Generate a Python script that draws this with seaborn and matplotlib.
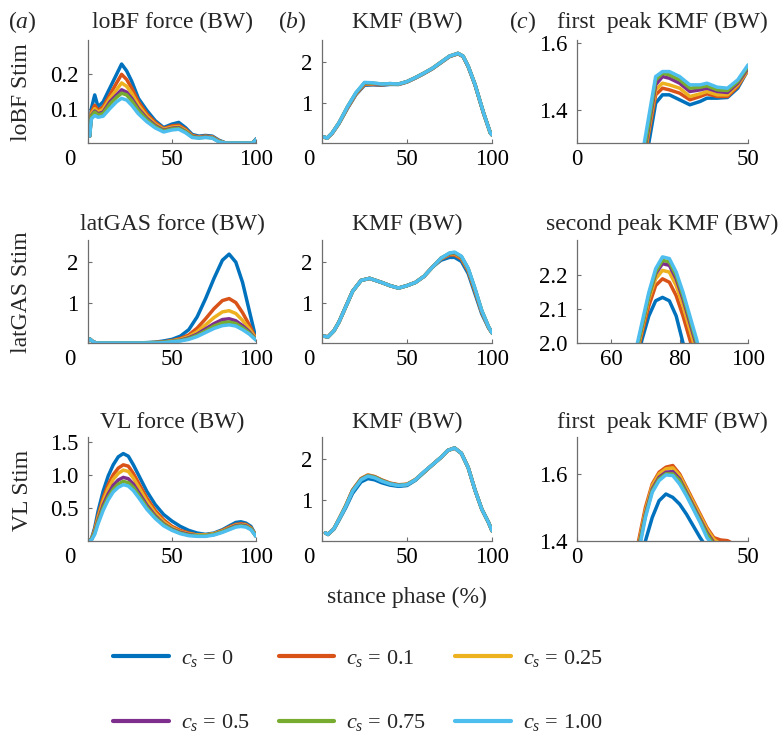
import numpy as np
import pandas as pd
import seaborn as sns
import matplotlib
matplotlib.use("Agg")
import matplotlib.pyplot as plt
from matplotlib.lines import Line2D
from matplotlib.transforms import ScaledTranslation

# ---------------- data ----------------
cs_labels = ["0", "0.1", "0.25", "0.5", "0.75", "1.00"]
colors = ["#0072BD", "#D95319", "#EDB120", "#7E2F8E", "#77AC30", "#4DBEEE"]

# row 1 (loBF Stim)
lobf_x = [1, 2, 4, 6, 9, 13, 17, 20, 23, 26, 30, 35, 40, 45, 50, 54, 58, 62, 66, 70, 74, 78, 82, 90, 98, 100]
lobf_y = [
    [0.02, 0.10, 0.14, 0.105, 0.12, 0.16, 0.20, 0.23, 0.21, 0.18, 0.13, 0.095, 0.065, 0.045, 0.055, 0.06, 0.045, 0.025, 0.02, 0.022, 0.02, 0.008, 0.0, 0.0, 0.0, 0.012],
    [0.02, 0.09, 0.11, 0.095, 0.105, 0.14, 0.175, 0.20, 0.185, 0.16, 0.12, 0.085, 0.06, 0.042, 0.05, 0.052, 0.04, 0.022, 0.018, 0.02, 0.018, 0.006, 0.0, 0.0, 0.0, 0.01],
    [0.02, 0.085, 0.10, 0.09, 0.098, 0.13, 0.155, 0.175, 0.165, 0.145, 0.11, 0.078, 0.055, 0.04, 0.046, 0.048, 0.037, 0.02, 0.017, 0.019, 0.017, 0.005, 0.0, 0.0, 0.0, 0.01],
    [0.02, 0.08, 0.093, 0.085, 0.09, 0.12, 0.14, 0.155, 0.148, 0.13, 0.10, 0.072, 0.051, 0.037, 0.043, 0.045, 0.034, 0.019, 0.016, 0.018, 0.016, 0.004, 0.0, 0.0, 0.0, 0.01],
    [0.02, 0.078, 0.09, 0.082, 0.086, 0.113, 0.133, 0.145, 0.14, 0.123, 0.095, 0.068, 0.048, 0.035, 0.041, 0.043, 0.033, 0.018, 0.015, 0.017, 0.015, 0.004, 0.0, 0.0, 0.0, 0.01],
    [0.02, 0.07, 0.08, 0.075, 0.078, 0.10, 0.12, 0.13, 0.125, 0.11, 0.085, 0.062, 0.044, 0.032, 0.038, 0.04, 0.03, 0.016, 0.014, 0.016, 0.014, 0.003, 0.0, 0.0, 0.0, 0.01],
]
kmf1_x = [1, 3, 6, 10, 15, 20, 25, 30, 35, 40, 45, 50, 55, 60, 65, 70, 75, 80, 83, 86, 90, 95, 99, 100]
kmf1_y = [
    [0.15, 0.12, 0.24, 0.48, 0.86, 1.20, 1.43, 1.44, 1.43, 1.45, 1.45, 1.51, 1.61, 1.72, 1.84, 1.99, 2.14, 2.21, 2.14, 1.89, 1.44, 0.74, 0.25, 0.20],
    [0.15, 0.12, 0.24, 0.49, 0.87, 1.21, 1.45, 1.45, 1.44, 1.46, 1.45, 1.51, 1.61, 1.72, 1.84, 1.99, 2.14, 2.21, 2.14, 1.89, 1.44, 0.74, 0.25, 0.20],
    [0.15, 0.12, 0.25, 0.49, 0.88, 1.22, 1.47, 1.46, 1.45, 1.46, 1.46, 1.52, 1.62, 1.73, 1.85, 2.00, 2.15, 2.22, 2.15, 1.90, 1.45, 0.75, 0.25, 0.20],
    [0.15, 0.12, 0.25, 0.50, 0.89, 1.23, 1.48, 1.47, 1.45, 1.47, 1.46, 1.52, 1.62, 1.73, 1.85, 2.00, 2.15, 2.22, 2.15, 1.90, 1.45, 0.75, 0.25, 0.20],
    [0.15, 0.12, 0.25, 0.50, 0.90, 1.24, 1.49, 1.48, 1.46, 1.47, 1.46, 1.52, 1.62, 1.73, 1.85, 2.00, 2.15, 2.22, 2.15, 1.90, 1.45, 0.75, 0.25, 0.20],
    [0.15, 0.12, 0.25, 0.50, 0.90, 1.25, 1.50, 1.49, 1.46, 1.47, 1.46, 1.52, 1.62, 1.73, 1.85, 2.00, 2.15, 2.22, 2.15, 1.90, 1.45, 0.75, 0.25, 0.20],
]
peak1a_x = [19, 21, 23, 25, 27, 30, 33, 36, 38, 41, 44, 47, 50]
peak1a_y = [
    [1.19, 1.30, 1.42, 1.445, 1.445, 1.43, 1.415, 1.425, 1.435, 1.435, 1.437, 1.465, 1.52],
    [1.21, 1.33, 1.445, 1.465, 1.46, 1.45, 1.43, 1.44, 1.448, 1.44, 1.44, 1.47, 1.52],
    [1.22, 1.34, 1.46, 1.48, 1.475, 1.465, 1.44, 1.448, 1.455, 1.445, 1.445, 1.475, 1.52],
    [1.23, 1.35, 1.475, 1.50, 1.495, 1.48, 1.455, 1.46, 1.465, 1.455, 1.452, 1.48, 1.525],
    [1.24, 1.36, 1.49, 1.51, 1.505, 1.49, 1.465, 1.468, 1.472, 1.46, 1.458, 1.485, 1.53],
    [1.26, 1.38, 1.50, 1.515, 1.515, 1.50, 1.475, 1.475, 1.48, 1.468, 1.465, 1.49, 1.535],
]

# row 2 (latGAS Stim)
gas_x = [0, 1, 3, 5, 10, 20, 30, 40, 45, 50, 55, 60, 65, 70, 75, 80, 84, 88, 92, 96, 100]
gas_y = [
    [0.05, 0.10, 0.03, 0.0, 0.0, 0.0, 0.0, 0.02, 0.05, 0.09, 0.17, 0.33, 0.65, 1.10, 1.60, 2.05, 2.20, 2.00, 1.50, 0.80, 0.10],
    [0.05, 0.10, 0.03, 0.0, 0.0, 0.0, 0.0, 0.01, 0.03, 0.06, 0.11, 0.20, 0.37, 0.60, 0.85, 1.05, 1.10, 1.00, 0.75, 0.45, 0.10],
    [0.05, 0.10, 0.03, 0.0, 0.0, 0.0, 0.0, 0.01, 0.02, 0.05, 0.09, 0.16, 0.28, 0.45, 0.63, 0.77, 0.80, 0.73, 0.56, 0.35, 0.10],
    [0.05, 0.10, 0.03, 0.0, 0.0, 0.0, 0.0, 0.01, 0.02, 0.04, 0.07, 0.13, 0.22, 0.35, 0.48, 0.58, 0.60, 0.55, 0.43, 0.28, 0.08],
    [0.05, 0.10, 0.03, 0.0, 0.0, 0.0, 0.0, 0.01, 0.02, 0.04, 0.06, 0.11, 0.19, 0.30, 0.42, 0.50, 0.52, 0.48, 0.38, 0.25, 0.08],
    [0.05, 0.10, 0.03, 0.0, 0.0, 0.0, 0.0, 0.0, 0.01, 0.03, 0.05, 0.09, 0.16, 0.26, 0.36, 0.43, 0.45, 0.42, 0.33, 0.22, 0.07],
]
kmf2_x = [1, 3.5, 7, 10, 14, 18, 23, 28, 35, 40, 45, 50, 55, 60, 65, 70, 75, 78, 82, 86, 90, 94, 98, 100]
kmf2_y = [
    [0.17, 0.15, 0.30, 0.52, 0.90, 1.28, 1.55, 1.60, 1.50, 1.42, 1.36, 1.42, 1.50, 1.65, 1.88, 2.05, 2.12, 2.12, 2.02, 1.72, 1.22, 0.72, 0.37, 0.25],
    [0.17, 0.15, 0.30, 0.52, 0.90, 1.28, 1.55, 1.60, 1.50, 1.42, 1.36, 1.42, 1.50, 1.65, 1.88, 2.08, 2.18, 2.18, 2.08, 1.78, 1.28, 0.76, 0.38, 0.25],
    [0.17, 0.15, 0.30, 0.52, 0.90, 1.28, 1.55, 1.60, 1.50, 1.42, 1.36, 1.42, 1.50, 1.65, 1.88, 2.09, 2.20, 2.21, 2.11, 1.81, 1.31, 0.78, 0.39, 0.25],
    [0.17, 0.15, 0.30, 0.52, 0.90, 1.28, 1.55, 1.60, 1.50, 1.42, 1.36, 1.42, 1.50, 1.65, 1.88, 2.10, 2.21, 2.23, 2.13, 1.83, 1.33, 0.79, 0.40, 0.25],
    [0.17, 0.15, 0.30, 0.52, 0.90, 1.28, 1.55, 1.60, 1.50, 1.42, 1.36, 1.42, 1.50, 1.65, 1.88, 2.10, 2.22, 2.24, 2.14, 1.84, 1.34, 0.80, 0.40, 0.25],
    [0.17, 0.15, 0.30, 0.52, 0.90, 1.28, 1.55, 1.60, 1.50, 1.42, 1.36, 1.42, 1.50, 1.65, 1.88, 2.10, 2.23, 2.25, 2.15, 1.85, 1.35, 0.80, 0.40, 0.25],
]
peak2_x = [65, 67, 69, 71, 73, 75, 77, 79, 81, 83, 85, 87]
peak2_y = [
    [1.83, 1.92, 2.01, 2.08, 2.125, 2.135, 2.125, 2.08, 2.00, 1.92, 1.85, 1.78],
    [1.85, 1.94, 2.03, 2.11, 2.17, 2.19, 2.18, 2.14, 2.08, 2.01, 1.94, 1.85],
    [1.86, 1.95, 2.04, 2.13, 2.19, 2.215, 2.21, 2.17, 2.11, 2.04, 1.97, 1.88],
    [1.87, 1.96, 2.05, 2.14, 2.205, 2.235, 2.23, 2.19, 2.13, 2.06, 1.99, 1.90],
    [1.87, 1.96, 2.05, 2.14, 2.21, 2.245, 2.24, 2.20, 2.14, 2.07, 2.00, 1.91],
    [1.88, 1.97, 2.06, 2.15, 2.22, 2.255, 2.25, 2.21, 2.15, 2.08, 2.01, 1.92],
]

# row 3 (VL Stim)
vl_x = [0, 2, 4, 6, 9, 12, 15, 18, 21, 24, 27, 30, 35, 40, 45, 50, 55, 60, 65, 70, 75, 80, 85, 88, 91, 94, 97, 100]
vl_y = [
    [0, 0.03, 0.20, 0.45, 0.75, 0.98, 1.15, 1.27, 1.32, 1.28, 1.15, 1.00, 0.75, 0.55, 0.40, 0.30, 0.22, 0.16, 0.12, 0.10, 0.12, 0.17, 0.24, 0.28, 0.29, 0.27, 0.22, 0.08],
    [0, 0.02, 0.17, 0.38, 0.65, 0.85, 1.00, 1.10, 1.15, 1.13, 1.02, 0.88, 0.65, 0.46, 0.32, 0.22, 0.16, 0.12, 0.09, 0.09, 0.11, 0.16, 0.22, 0.25, 0.26, 0.25, 0.20, 0.08],
    [0, 0.02, 0.15, 0.35, 0.60, 0.79, 0.93, 1.02, 1.07, 1.05, 0.95, 0.82, 0.60, 0.42, 0.29, 0.20, 0.14, 0.11, 0.09, 0.09, 0.11, 0.15, 0.21, 0.24, 0.25, 0.24, 0.19, 0.08],
    [0, 0.02, 0.13, 0.31, 0.54, 0.71, 0.84, 0.92, 0.96, 0.94, 0.86, 0.74, 0.54, 0.38, 0.26, 0.18, 0.13, 0.10, 0.08, 0.08, 0.10, 0.14, 0.20, 0.23, 0.24, 0.23, 0.18, 0.07],
    [0, 0.02, 0.12, 0.29, 0.50, 0.66, 0.78, 0.86, 0.90, 0.88, 0.81, 0.70, 0.51, 0.36, 0.25, 0.17, 0.12, 0.09, 0.08, 0.08, 0.10, 0.14, 0.19, 0.22, 0.23, 0.22, 0.18, 0.07],
    [0, 0.01, 0.10, 0.26, 0.46, 0.62, 0.74, 0.81, 0.85, 0.83, 0.76, 0.66, 0.48, 0.34, 0.23, 0.16, 0.11, 0.08, 0.07, 0.07, 0.09, 0.13, 0.18, 0.21, 0.22, 0.21, 0.17, 0.07],
]
kmf3_x = [2, 3.5, 7, 10, 14, 18, 23, 27, 31, 35, 40, 45, 50, 55, 60, 65, 70, 74, 78, 82, 86, 90, 94, 98, 100]
kmf3_y = [
    [0.20, 0.16, 0.29, 0.51, 0.82, 1.17, 1.45, 1.53, 1.50, 1.43, 1.37, 1.34, 1.36, 1.49, 1.68, 1.87, 2.05, 2.22, 2.28, 2.15, 1.80, 1.25, 0.78, 0.45, 0.25],
    [0.20, 0.16, 0.30, 0.54, 0.87, 1.25, 1.53, 1.62, 1.58, 1.50, 1.42, 1.38, 1.39, 1.51, 1.69, 1.87, 2.05, 2.22, 2.28, 2.15, 1.80, 1.25, 0.78, 0.45, 0.25],
    [0.20, 0.16, 0.30, 0.54, 0.87, 1.25, 1.53, 1.615, 1.575, 1.495, 1.415, 1.375, 1.39, 1.51, 1.69, 1.87, 2.05, 2.22, 2.28, 2.15, 1.80, 1.25, 0.78, 0.45, 0.25],
    [0.20, 0.16, 0.30, 0.53, 0.86, 1.24, 1.52, 1.605, 1.57, 1.49, 1.41, 1.37, 1.385, 1.50, 1.69, 1.87, 2.05, 2.22, 2.28, 2.15, 1.80, 1.25, 0.78, 0.45, 0.25],
    [0.20, 0.16, 0.30, 0.53, 0.86, 1.23, 1.51, 1.60, 1.565, 1.485, 1.405, 1.365, 1.385, 1.50, 1.69, 1.87, 2.05, 2.22, 2.28, 2.15, 1.80, 1.25, 0.78, 0.45, 0.25],
    [0.20, 0.16, 0.30, 0.53, 0.85, 1.22, 1.50, 1.59, 1.55, 1.47, 1.40, 1.36, 1.38, 1.50, 1.70, 1.87, 2.05, 2.22, 2.28, 2.15, 1.80, 1.25, 0.78, 0.45, 0.25],
]
peak1c_x = [16, 18, 20, 22, 24, 26, 28, 30, 32, 34, 36, 38, 40, 42, 44, 46]
peak1c_y = [
    [1.22, 1.32, 1.40, 1.47, 1.52, 1.54, 1.53, 1.51, 1.48, 1.445, 1.41, 1.38, 1.36, 1.35, 1.34, 1.33],
    [1.30, 1.40, 1.50, 1.57, 1.605, 1.62, 1.625, 1.60, 1.56, 1.52, 1.48, 1.44, 1.41, 1.403, 1.401, 1.39],
    [1.29, 1.39, 1.49, 1.565, 1.60, 1.615, 1.618, 1.595, 1.555, 1.515, 1.475, 1.435, 1.405, 1.39, 1.38, 1.37],
    [1.28, 1.38, 1.48, 1.555, 1.59, 1.605, 1.607, 1.585, 1.545, 1.505, 1.465, 1.425, 1.395, 1.38, 1.37, 1.36],
    [1.28, 1.375, 1.475, 1.55, 1.585, 1.60, 1.60, 1.58, 1.54, 1.50, 1.46, 1.42, 1.39, 1.37, 1.36, 1.35],
    [1.27, 1.365, 1.47, 1.545, 1.58, 1.597, 1.595, 1.57, 1.535, 1.495, 1.455, 1.41, 1.385, 1.37, 1.36, 1.35],
]

titles = [["loBF force (BW)", "KMF (BW)", "first  peak KMF (BW)"],
          ["latGAS force (BW)", "KMF (BW)", "second peak KMF (BW)"],
          ["VL force (BW)", "KMF (BW)", "first  peak KMF (BW)"]]
row_labels = ["loBF Stim", "latGAS Stim", "VL Stim"]
panel_letters = ["a", "b", "c"]

# ---------------- style ----------------
sns.set_style("ticks")
plt.rcParams["font.family"] = ["Liberation Serif", "DejaVu Serif"]
plt.rcParams["mathtext.fontset"] = "custom"
plt.rcParams["mathtext.rm"] = "Liberation Serif"
plt.rcParams["mathtext.it"] = "Liberation Serif:italic"

W, H = 780, 732
fig = plt.figure(figsize=(W / 100, H / 100), dpi=100)
fig.patch.set_facecolor("white")

lefts = [88, 322, 577]
widths = [168, 170, 171]
tops = [40, 240, 437]
heights = [103, 103, 104]
title_pads = [8.5, 7.0, 6.5]
zero_shift = [-18, -13, 0]

panels = [
    (0, 0, lobf_x, lobf_y, (0, 100), (0, 0.30), [0, 50, 100], ["0", "50", "100"], [0.1, 0.2], ["0.1", "0.2"]),
    (0, 1, kmf1_x, kmf1_y, (0, 100), (0, 2.55), [0, 50, 100], ["0", "50", "100"], [1, 2], ["1", "2"]),
    (0, 2, peak1a_x, peak1a_y, (0, 50), (1.3, 1.61), [0, 50], ["0", "50"], [1.4, 1.6], ["1.4", "1.6"]),
    (1, 0, gas_x, gas_y, (0, 100), (0, 2.55), [0, 50, 100], ["0", "50", "100"], [1, 2], ["1", "2"]),
    (1, 1, kmf2_x, kmf2_y, (0, 100), (0, 2.55), [0, 50, 100], ["0", "50", "100"], [1, 2], ["1", "2"]),
    (1, 2, peak2_x, peak2_y, (50, 100), (2.0, 2.305), [60, 80, 100], ["60", "80", "100"], [2.0, 2.1, 2.2], ["2.0", "2.1", "2.2"]),
    (2, 0, vl_x, vl_y, (0, 100), (0, 1.57), [0, 50, 100], ["0", "50", "100"], [0.5, 1.0, 1.5], ["0.5", "1.0", "1.5"]),
    (2, 1, kmf3_x, kmf3_y, (0, 100), (0, 2.55), [0, 50, 100], ["0", "50", "100"], [1, 2], ["1", "2"]),
    (2, 2, peak1c_x, peak1c_y, (0, 50), (1.4, 1.71), [0, 50], ["0", "50"], [1.4, 1.6], ["1.4", "1.6"]),
]

spine_col = "#6e6e6e"
for (r, c, xs, ys, xlim, ylim, xt, xtl, yt, ytl) in panels:
    ax = fig.add_axes([lefts[c] / W, 1 - (tops[r] + heights[r]) / H, widths[c] / W, heights[r] / H])
    rows = []
    for lab, yv in zip(cs_labels, ys):
        for xv, v in zip(xs, yv):
            rows.append({"x": xv, "y": v, "cs": lab})
    df = pd.DataFrame(rows)
    sns.lineplot(data=df, x="x", y="y", hue="cs", hue_order=cs_labels, palette=colors,
                 estimator=None, sort=False, legend=False, lw=2.5, ax=ax)
    ax.set_xlim(*xlim)
    ax.set_ylim(*ylim)
    ax.set_xticks(xt)
    ax.set_xticklabels(xtl)
    ax.set_yticks(yt)
    ax.set_yticklabels(ytl)
    ax.set_xlabel("")
    ax.set_ylabel("")
    for s in ["top", "right"]:
        ax.spines[s].set_visible(False)
    for s in ["left", "bottom"]:
        ax.spines[s].set_color(spine_col)
        ax.spines[s].set_linewidth(0.9)
    ax.tick_params(axis="both", direction="in", length=3, width=0.8, color=spine_col,
                   labelsize=16.5, labelcolor="black")
    ax.tick_params(axis="x", pad=4)
    ax.tick_params(axis="y", pad=7)
    ax.set_title(titles[r][c], fontsize=17, pad=title_pads[r])
    if zero_shift[c] != 0:
        lbl = ax.get_xticklabels()[0]
        lbl.set_transform(lbl.get_transform() + ScaledTranslation(zero_shift[c] / 100, 0, fig.dpi_scale_trans))

# panel letters
for x0, letter in zip([8, 278, 509], panel_letters):
    fig.text(x0 / W, 1 - 28 / H, "(" + r"$\it{" + letter + "}$" + ")", fontsize=17, ha="left", va="baseline")

# row labels
for yc, lab in zip([92, 292, 490], row_labels):
    fig.text(22 / W, 1 - yc / H, lab, rotation=90, fontsize=17, ha="center", va="center")

fig.text(407 / W, 1 - 597 / H, "stance phase (%)", fontsize=17, ha="center", va="center")

# legend (row-wise order as in the reference)
order = [0, 3, 1, 4, 2, 5]
handles = [Line2D([], [], color=colors[i], lw=3) for i in order]
labels = [r"$c_s$ = " + cs_labels[i] for i in order]
fig.legend(handles, labels, ncol=3, loc="upper left", bbox_to_anchor=(113 / W, 1 - 648 / H),
           frameon=False, fontsize=16, handlelength=2.5, handletextpad=0.55,
           columnspacing=1.3, labelspacing=1.95, borderpad=0, borderaxespad=0)

fig.savefig("out.png", dpi=100, facecolor="white")
